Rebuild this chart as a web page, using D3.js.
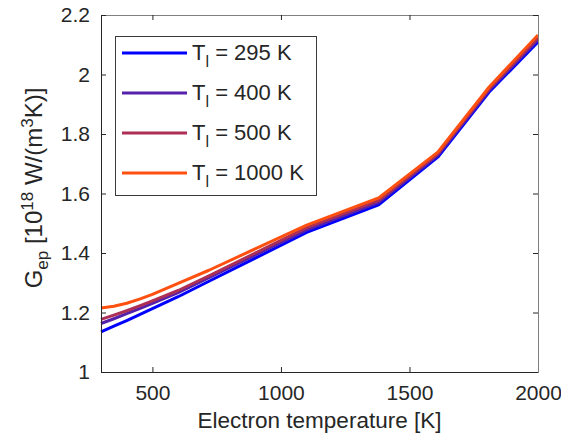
<!DOCTYPE html>
<html><head><meta charset="utf-8">
<script src="https://cdn.jsdelivr.net/npm/d3@7"></script>
<style>body{margin:0;background:#fff;} text{font-family:"Liberation Sans",Arial,sans-serif;fill:#262626;}</style>
</head><body>
<svg id="c" width="561" height="446"></svg>
<script>
const electronTemp = [300, 350, 400, 450, 500, 600, 720, 1100, 1380, 1610, 1810, 2000];
const g295  = [1.135, 1.154, 1.173, 1.193, 1.213, 1.253, 1.305, 1.469, 1.562, 1.722, 1.941, 2.109];
const g400  = [1.163, 1.179, 1.196, 1.213, 1.231, 1.267, 1.317, 1.478, 1.570, 1.728, 1.947, 2.117];
const g500  = [1.177, 1.191, 1.206, 1.222, 1.239, 1.274, 1.323, 1.485, 1.577, 1.733, 1.952, 2.124];
const g1000 = [1.215, 1.221, 1.231, 1.245, 1.261, 1.298, 1.342, 1.494, 1.585, 1.739, 1.958, 2.133];
const seriesLabels = ["295 K", "400 K", "500 K", "1000 K"];
const seriesColors = ["#0000ff", "#5520aa", "#ad2f55", "#ff5010"];
const xTicks = [500, 1000, 1500, 2000];
const yTicks = [1, 1.2, 1.4, 1.6, 1.8, 2, 2.2];

const series = [g295, g400, g500, g1000];
const L = 101, R = 538, T = 15, B = 372;
const FONT = '"Liberation Sans",Arial,sans-serif';
const svg = d3.select("#c");
const x = d3.scaleLinear().domain([300, 2000]).range([L, R]);
const y = d3.scaleLinear().domain([1, 2.2]).range([B, T]);

const line = d3.line().x(d => x(d[0])).y(d => y(d[1]));
series.forEach((s, i) => {
  svg.append("path").datum(electronTemp.map((t, j) => [t, s[j]]))
    .attr("d", line).attr("fill", "none").attr("stroke", seriesColors[i])
    .attr("stroke-width", 3).attr("stroke-linejoin", "round");
});

const axCol = "#262626";
const gB = svg.append("g").attr("transform", `translate(0,${B})`)
  .call(d3.axisBottom(x).tickValues(xTicks).tickSizeInner(-5).tickSizeOuter(0).tickPadding(13).tickFormat(d3.format("d")));
const gT = svg.append("g").attr("transform", `translate(0,${T})`)
  .call(d3.axisTop(x).tickValues(xTicks).tickSizeInner(-5).tickSizeOuter(0).tickFormat(""));
const gL = svg.append("g").attr("transform", `translate(${L},0)`)
  .call(d3.axisLeft(y).tickValues(yTicks).tickSizeInner(-5).tickSizeOuter(0).tickPadding(11).tickFormat(d => String(+d.toFixed(1))));
const gR = svg.append("g").attr("transform", `translate(${R},0)`)
  .call(d3.axisRight(y).tickValues(yTicks).tickSizeInner(-5).tickSizeOuter(0).tickFormat(""));
[gB, gT, gL, gR].forEach(g => {
  g.selectAll("path.domain").attr("stroke", axCol).attr("stroke-width", 1);
  g.selectAll(".tick line").attr("stroke", axCol);
  g.selectAll("text").style("font-family", FONT).style("font-size", "21px").attr("fill", axCol);
});
[gT, gR].forEach(g => g.selectAll("path.domain").attr("stroke", "#7f7f7f"));
gB.selectAll("text").attr("dy", "0.71em");

svg.append("text").attr("x", (L + R) / 2).attr("y", 428).attr("text-anchor", "middle")
  .style("font-size", "22.5px").text("Electron temperature [K]");
const yl = svg.append("text").attr("transform", `translate(42,188) rotate(-90)`)
  .attr("text-anchor", "middle").style("font-size", "24px");
yl.append("tspan").text("G");
yl.append("tspan").attr("dy", 6).style("font-size", "17px").text("ep");
yl.append("tspan").attr("dy", -6).text(" [10");
yl.append("tspan").attr("dy", -9).style("font-size", "17px").text("18");
yl.append("tspan").attr("dy", 9).text(" W/(m");
yl.append("tspan").attr("dy", -9).style("font-size", "17px").text("3");
yl.append("tspan").attr("dy", 9).text("K)]");

const lg = svg.append("g");
lg.append("rect").attr("x", 115.5).attr("y", 36.5).attr("width", 201).attr("height", 159)
  .attr("fill", "#fff").attr("stroke", "#3a3a3a").attr("stroke-width", 1);
seriesLabels.forEach((lab, i) => {
  const yy = 53 + i * 40;
  lg.append("line").attr("x1", 122).attr("x2", 187).attr("y1", yy).attr("y2", yy)
    .attr("stroke", seriesColors[i]).attr("stroke-width", 3);
  const t = lg.append("text").attr("x", 192).attr("y", yy + 7).style("font-size", "22px");
  t.append("tspan").text("T");
  t.append("tspan").attr("dy", 7).style("font-size", "16px").text("l");
  t.append("tspan").attr("dy", -7).text(" = " + lab);
});
</script>
</body></html>
